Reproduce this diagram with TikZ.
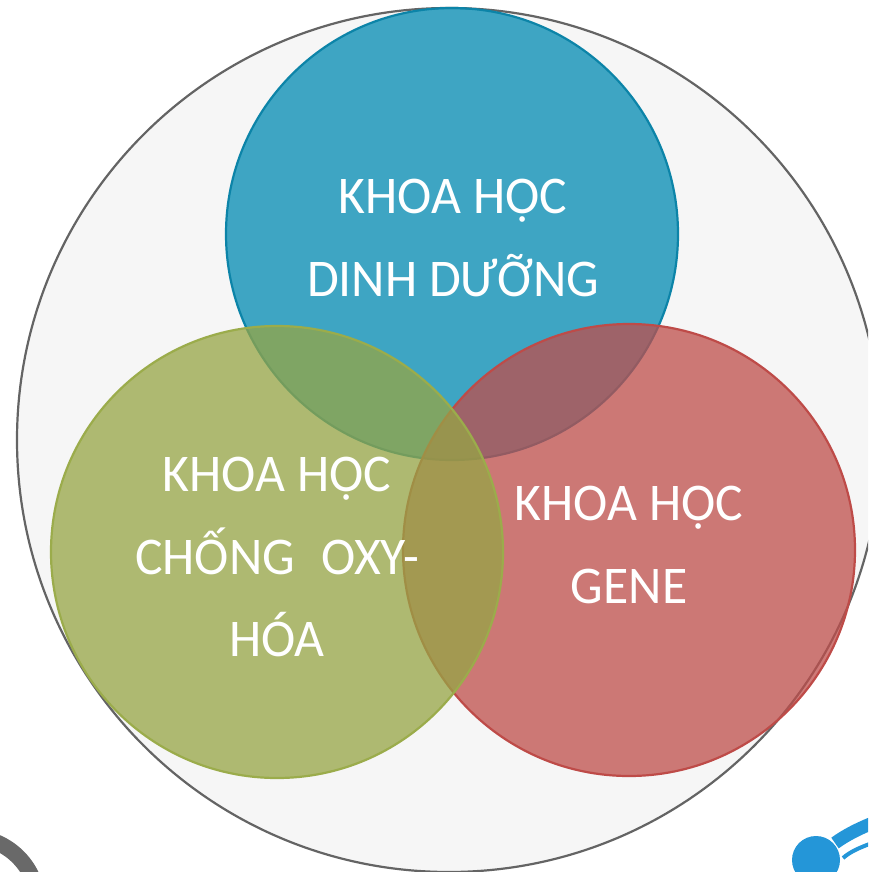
\documentclass[tikz,border=0pt]{standalone}
\usepackage{fontspec}
\setmainfont[FakeStretch=0.975]{Carlito}
\definecolor{bgfill}{RGB}{246,246,246}
\definecolor{bgline}{RGB}{100,100,100}
\definecolor{bluefill}{RGB}{1,138,178}
\definecolor{blueline}{RGB}{12,132,168}
\definecolor{greenfill}{RGB}{150,165,69}
\definecolor{greenline}{RGB}{155,172,75}
\definecolor{redfill}{RGB}{191,78,75}
\definecolor{redline}{RGB}{190,75,72}
\definecolor{logoblue}{RGB}{36,150,216}
\definecolor{logogray}{RGB}{105,105,105}
\tikzset{
  petal/.style={circle,minimum size=452pt,inner sep=0pt,outer sep=0pt,line width=2.2pt,fill opacity=.75,draw opacity=1},
  caption/.style={text=white,font=\fontsize{53}{82.5}\selectfont,align=center,inner sep=0pt}
}
\begin{document}
\begin{tikzpicture}[x=1pt,y=-1pt]
\useasboundingbox (0,0) rectangle (868,872);
\clip (0,0) rectangle (868,872);
\node[circle,minimum size=864pt,inner sep=0pt,draw=bgline,fill=bgfill,line width=2.2pt] (outer) at (449,440) {};
\node[circle,minimum size=48pt,inner sep=0pt,fill=logoblue] (logodot) at (816,860) {};
\draw[logogray,line width=16pt] (-30,905) ++(-100:68) arc[start angle=-100,end angle=-10,radius=68];
\draw[logoblue,line width=13pt] (835,843) .. controls (846,835) and (858,829) .. (875,822);
\draw[logoblue,line width=4pt] (843,858) .. controls (850,852) and (858,848) .. (875,842);
\node[petal,draw=blueline,fill=bluefill] (blue) at (452,234) {};
\node[petal,draw=redline,fill=redfill] (red) at (629,550) {};
\node[petal,draw=greenline,fill=greenfill] (green) at (277,552) {};
\node[caption] (bluetext) at (453,238) {KHOA HỌC\\DINH DƯỠNG};
\node[caption] (greentext) at (277,557) {KHOA HỌC\\CHỐNG~\hspace{3pt} OXY-\\HÓA};
\node[caption] (redtext) at (629,545) {KHOA HỌC\\GENE};
\end{tikzpicture}
\end{document}
